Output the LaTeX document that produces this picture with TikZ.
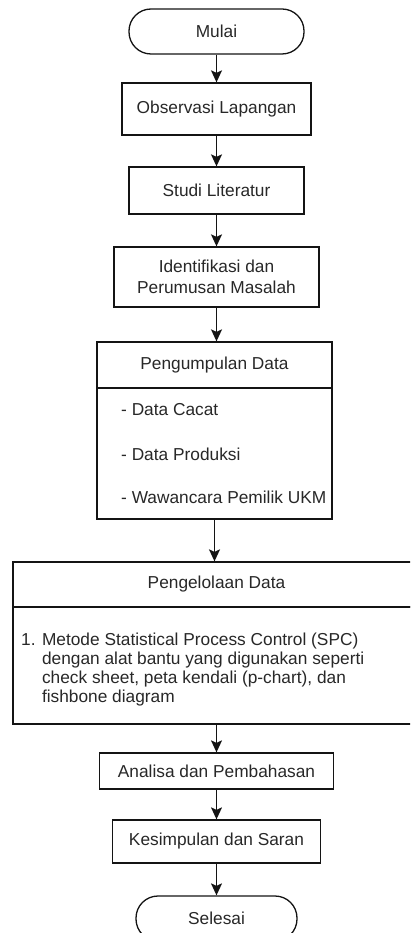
\documentclass[tikz,border=0pt]{standalone}
\usepackage{fontspec}
\setmainfont{Liberation Sans}
\usetikzlibrary{arrows.meta}
\definecolor{txt}{RGB}{40,40,40}
\definecolor{ln}{RGB}{20,20,20}
\begin{document}
\begin{tikzpicture}[x=1pt,y=-1pt,
  box/.style={draw=ln, line width=1.3pt, fill=white, rectangle, inner sep=0pt,
    text=txt, font=\fontsize{17.3}{21.5}\selectfont, align=center},
  term/.style={box, rounded corners=22pt},
  item/.style={inner sep=0pt, text=txt, font=\fontsize{17.3}{19}\selectfont, align=left},
  arr/.style={draw=ln, line width=1.3pt, -{Stealth[length=12pt,width=11pt,inset=2.5pt]}}]
\useasboundingbox (0,0) rectangle (410,933);
\clip (0,0) rectangle (410,933);
\fill[white] (0,0) rectangle (410,933);

\node[term, minimum width=175pt, minimum height=45pt] (mulai) at (216.5,31.5) {Mulai};
\node[box, minimum width=189pt, minimum height=52pt] (obs) at (216.5,109) {Observasi Lapangan};
\node[box, minimum width=175pt, minimum height=47pt] (studi) at (216.5,190.5) {Studi Literatur};
\node[box, minimum width=205pt, minimum height=60pt] (ident) at (216.5,277) {Identifikasi dan\\Perumusan Masalah};

\node[box, minimum width=235pt, minimum height=46pt] (pgHead) at (214.5,365) {Pengumpulan Data};
\node[box, minimum width=235pt, minimum height=131pt] (pgBody) at (214.5,453.5) {};
\node[item, anchor=base west] (d1) at (121,415) {- Data Cacat};
\node[item, anchor=base west] (d2) at (121,460) {- Data Produksi};
\node[item, anchor=base west] (d3) at (121,503) {- Wawancara Pemilik UKM};

\node[box, minimum width=407pt, minimum height=45pt] (plHead) at (216.5,584.5) {Pengelolaan Data};
\node[box, minimum width=407pt, minimum height=117pt] (plBody) at (216.5,665.5) {};
\node[item, anchor=base west] (m1) at (21,702) {1. Metode Statistical Process Control (SPC)\\
\phantom{1. }dengan alat bantu yang digunakan seperti\\
\phantom{1. }check sheet, peta kendali (p-chart), dan\\
\phantom{1. }fishbone diagram};

\node[box, minimum width=234pt, minimum height=36pt] (anl) at (216.5,771) {Analisa dan Pembahasan};
\node[box, minimum width=208pt, minimum height=43pt] (kes) at (216.5,841.5) {Kesimpulan dan Saran};
\node[term, minimum width=161pt, minimum height=45pt] (sel) at (216.5,918.5) {Selesai};

\draw[arr] (mulai.south) -- (obs.north);
\draw[arr] (obs.south) -- (studi.north);
\draw[arr] (studi.south) -- (ident.north);
\draw[arr] (ident.south) -- (ident.south |- pgHead.north);
\draw[arr] (pgBody.south) -- (pgBody.south |- plHead.north);
\draw[arr] (plBody.south) -- (anl.north);
\draw[arr] (anl.south) -- (kes.north);
\draw[arr] (kes.south) -- (sel.north);
\end{tikzpicture}
\end{document}
